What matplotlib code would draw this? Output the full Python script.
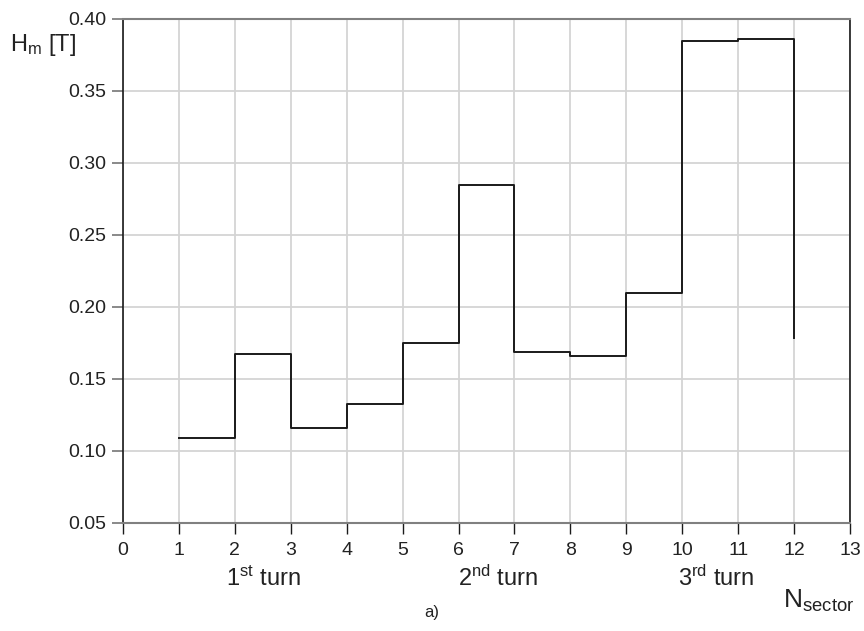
import matplotlib
matplotlib.use("Agg")
import matplotlib.pyplot as plt
import numpy as np

plt.rcParams['font.family'] = ['Liberation Sans', 'DejaVu Sans']
plt.rcParams['mathtext.fontset'] = 'custom'
plt.rcParams['mathtext.rm'] = 'Liberation Sans'
plt.rcParams['mathtext.it'] = 'Liberation Sans'

# sector edges and field value per sector (last entry = end of final drop)
sectors = [1, 2, 3, 4, 5, 6, 7, 8, 9, 10, 11, 12]
h_m = [0.109, 0.1675, 0.116, 0.1325, 0.175, 0.285, 0.1685, 0.166, 0.2095, 0.385, 0.386, 0.1785]

turn_labels = [r'1$^{\mathrm{st}}$ turn', r'2$^{\mathrm{nd}}$ turn', r'3$^{\mathrm{rd}}$ turn']
turn_pos = [2.5, 6.7, 10.6]

fig = plt.figure(figsize=(8.64, 6.31), dpi=100)
ax = fig.add_axes([0.1424, 0.1712, 0.8414, 0.7987])

ax.step(sectors, h_m, where='post', color='#1a1a1a', lw=1.4, zorder=3)

ax.set_xlim(0, 13)
ax.set_ylim(0.05, 0.40)
ax.set_xticks(range(0, 14))
ax.set_yticks(np.arange(0.05, 0.401, 0.05))
ax.set_yticklabels([f'{v:.2f}' for v in np.arange(0.05, 0.401, 0.05)])
ax.grid(True, color='#d4d4d4', lw=1.3, zorder=0)
ax.set_axisbelow(True)

ax.tick_params(axis='x', direction='out', length=8, width=1, color='#1a1a1a',
               labelsize=14, pad=6, labelcolor='#222222')
ax.tick_params(axis='y', direction='out', length=8, width=1.3, color='#808080',
               labelsize=14, pad=4, labelcolor='#222222')

for side in ['left', 'right']:
    ax.spines[side].set_color('#1a1a1a')
    ax.spines[side].set_linewidth(1.2)
for side in ['top', 'bottom']:
    ax.spines[side].set_color('#808080')
    ax.spines[side].set_linewidth(1.5)

for lab, xp in zip(turn_labels, turn_pos):
    ax.text(xp, -0.11, lab, transform=ax.get_xaxis_transform(), ha='center', va='center',
            fontsize=17, color='#222222')

fig.text(10 / 864, 1 - 45 / 631, r'H$_{\mathrm{m}}$ [T]', fontsize=17, ha='left', va='center',
         color='#222222')
fig.text(783 / 864, 1 - 601 / 631, r'N$_{\mathrm{sector}}$', fontsize=19, ha='left', va='center',
         color='#222222')
fig.text(432 / 864, 1 - 612 / 631, 'a)', fontsize=12, ha='center', va='center', color='#222222')

fig.savefig('out.png', dpi=100)
